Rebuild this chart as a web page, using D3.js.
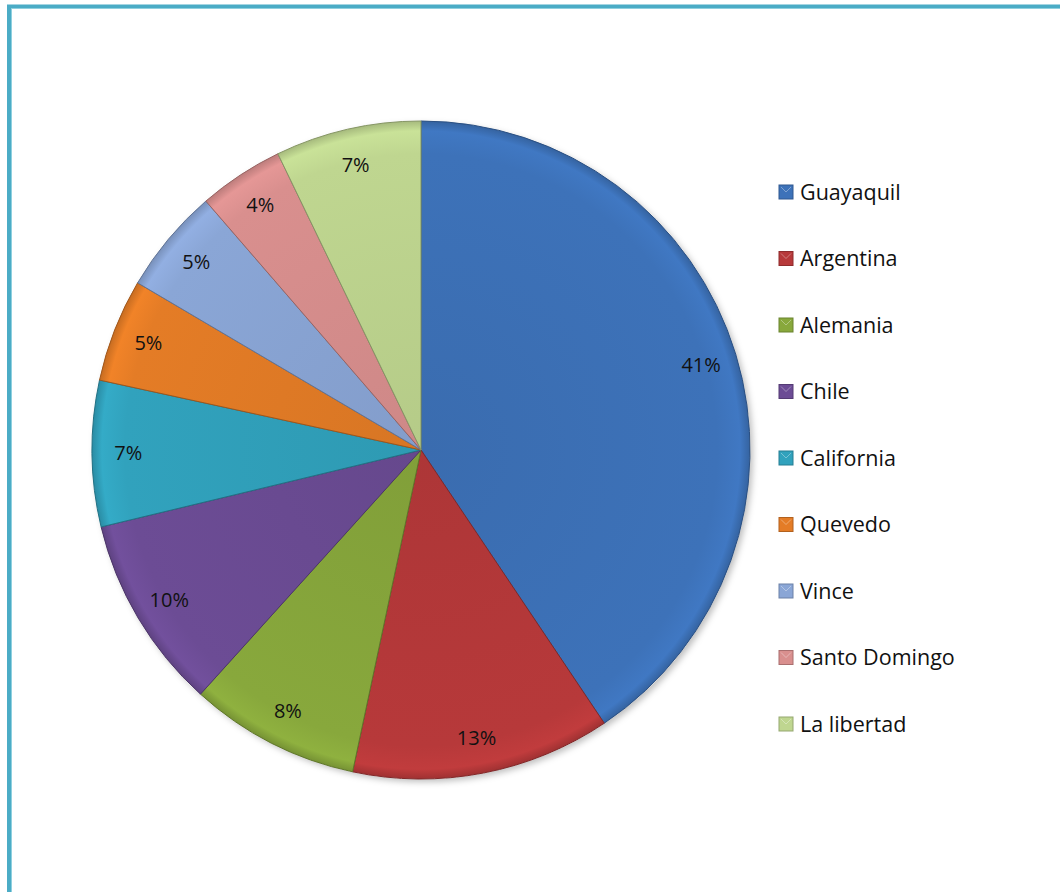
<!DOCTYPE html>
<html><head><meta charset="utf-8">
<script src="https://cdn.jsdelivr.net/npm/d3@7"></script>
<style>body{margin:0;background:#fff}svg{display:block}</style>
</head><body>
<script>
const categories = ["Guayaquil","Argentina","Alemania","Chile","California","Quevedo","Vince","Santo Domingo","La libertad"];
const values = [40.8,12.8,8.4,9.6,7.2,5.1,5.2,4.2,7.2];
const colors = ["#3d72b9","#b7393a","#88a83c","#6c4c95","#31a2bd","#e47c26","#8aa6d6","#d98f8e","#bfd690"];

const W=1060,H=892, cx=421, cy=450, R=329;
const svg=d3.select("body").append("svg").attr("width",W).attr("height",H);
const defs=svg.append("defs");
const f=defs.append("filter").attr("id","sh").attr("x","-20%").attr("y","-20%").attr("width","140%").attr("height","140%");
f.append("feDropShadow").attr("dx",3).attr("dy",3).attr("stdDeviation",3).attr("flood-color","#000").attr("flood-opacity",0.25);
colors.forEach((c,i)=>{
  const g=defs.append("radialGradient").attr("id","g"+i).attr("gradientUnits","userSpaceOnUse")
    .attr("cx",0).attr("cy",0).attr("r",R);
  g.append("stop").attr("offset","0%").attr("stop-color",d3.color(c).darker(0.15));
  g.append("stop").attr("offset","90%").attr("stop-color",c);
  g.append("stop").attr("offset","97%").attr("stop-color",d3.color(c).brighter(0.15));
  g.append("stop").attr("offset","100%").attr("stop-color",d3.color(c).darker(0.4));
});

// frame
svg.append("rect").attr("x",9).attr("y",6.5).attr("width",W+20).attr("height",H+20)
  .attr("fill","none").attr("stroke","#4bacc6").attr("stroke-width",4);
svg.append("rect").attr("x",11.5).attr("y",8.5).attr("width",W+20).attr("height",H+20)
  .attr("fill","none").attr("stroke","#8fd0df").attr("stroke-width",1);

const total=d3.sum(values);
const pie=d3.pie().sort(null).value(d=>d)(values);
const arc=d3.arc().innerRadius(0).outerRadius(R);
const g=svg.append("g").attr("transform",`translate(${cx},${cy})`);
g.append("circle").attr("r",R).attr("fill","#fff").attr("filter","url(#sh)");
g.selectAll("path").data(pie).join("path")
  .attr("d",arc).attr("fill",(d,i)=>`url(#g${i})`)
  .attr("stroke",(d,i)=>d3.color(colors[i]).darker(1)).attr("stroke-width",1).attr("stroke-linejoin","round");

const lab=d3.arc().innerRadius(R*0.89).outerRadius(R*0.89);
g.append("g").selectAll("text").data(pie).join("text")
  .attr("transform",d=>`translate(${lab.centroid(d)})`)
  .attr("text-anchor","middle").attr("dy","0.35em")
  .attr("font-family","'Open Sans','Noto Sans',sans-serif").attr("font-size",20).attr("fill","#111")
  .text(d=>Math.round(d.data/total*100)+"%");

// legend
const ly=d3.scalePoint().domain(categories).range([192,724]);
const lg=svg.append("g").selectAll("g").data(categories).join("g")
  .attr("transform",d=>`translate(779,${ly(d)})`);
lg.append("rect").attr("x",0).attr("y",-7).attr("width",14).attr("height",14)
  .attr("fill",(d,i)=>colors[i]).attr("stroke",(d,i)=>d3.color(colors[i]).darker(0.7)).attr("stroke-width",1);
lg.append("path").attr("d","M2,-5 L7,0 L12,-5").attr("fill","none").attr("stroke","#fff").attr("stroke-opacity",0.35).attr("stroke-width",1);
lg.append("text").attr("x",21).attr("dy","0.35em")
  .attr("font-family","'Open Sans','Noto Sans',sans-serif").attr("font-size",21.5).attr("fill","#111")
  .text(d=>d);
</script>
</body></html>
